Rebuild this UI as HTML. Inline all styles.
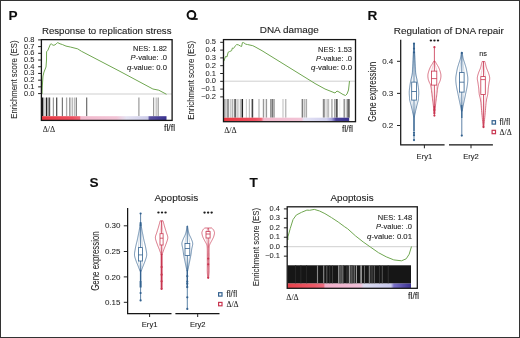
<!DOCTYPE html>
<html><head><meta charset="utf-8"><style>
html,body{margin:0;padding:0;background:#fff;}
svg{display:block;}
</style></head><body>
<svg width="520" height="338" viewBox="0 0 520 338">
<defs><linearGradient id="gP" x1="0" x2="1" y1="0" y2="0"><stop offset="0" stop-color="#e8363f"/><stop offset="0.25" stop-color="#ec5060"/><stop offset="0.305" stop-color="#ee6474"/><stop offset="0.315" stop-color="#f2b8cc"/><stop offset="0.6" stop-color="#f2c4d6"/><stop offset="0.68" stop-color="#e4e2f2"/><stop offset="0.85" stop-color="#cccbe9"/><stop offset="0.865" stop-color="#5a52a0"/><stop offset="1" stop-color="#3a3290"/></linearGradient><linearGradient id="gQ" x1="0" x2="1" y1="0" y2="0"><stop offset="0" stop-color="#e8363f"/><stop offset="0.25" stop-color="#ec5060"/><stop offset="0.3" stop-color="#ee6474"/><stop offset="0.32" stop-color="#f2b8cc"/><stop offset="0.62" stop-color="#f2c4d6"/><stop offset="0.64" stop-color="#e4e2f4"/><stop offset="0.82" stop-color="#d0d0ee"/><stop offset="0.86" stop-color="#a8a4dc"/><stop offset="0.895" stop-color="#4a4098"/><stop offset="1" stop-color="#3a3290"/></linearGradient><linearGradient id="gT" x1="0" x2="1" y1="0" y2="0"><stop offset="0" stop-color="#e8404a"/><stop offset="0.22" stop-color="#ec5a68"/><stop offset="0.294" stop-color="#ee6c80"/><stop offset="0.306" stop-color="#f2aec8"/><stop offset="0.594" stop-color="#f0c0d8"/><stop offset="0.62" stop-color="#dcdcf0"/><stop offset="0.838" stop-color="#c8c8ec"/><stop offset="0.862" stop-color="#7a70c8"/><stop offset="1" stop-color="#3a3090"/></linearGradient></defs>
<filter id="soft" x="0" y="0" width="100%" height="100%"><feGaussianBlur stdDeviation="0.3"/></filter>
<rect x="0" y="0" width="520" height="338" fill="#fff"/>
<g filter="url(#soft)">
<line x1="41.9" y1="94" x2="172.1" y2="94" stroke="#cfcfcf" stroke-width="1" />
<line x1="42.4" y1="97.5" x2="42.4" y2="116.2" stroke="#151515" stroke-width="2.0" />
<line x1="45" y1="97.5" x2="45" y2="116.2" stroke="#bbb" stroke-width="1.2" />
<line x1="46.5" y1="97.5" x2="46.5" y2="116.2" stroke="#222" stroke-width="1.1" />
<line x1="47.9" y1="97.5" x2="47.9" y2="116.2" stroke="#888" stroke-width="1" />
<line x1="49.4" y1="97.5" x2="49.4" y2="116.2" stroke="#555" stroke-width="1.6" />
<line x1="53.4" y1="97.5" x2="53.4" y2="116.2" stroke="#999" stroke-width="1.2" />
<line x1="56.7" y1="97.5" x2="56.7" y2="116.2" stroke="#444" stroke-width="1.2" />
<line x1="62.4" y1="97.5" x2="62.4" y2="116.2" stroke="#777" stroke-width="1.2" />
<line x1="66.6" y1="97.5" x2="66.6" y2="116.2" stroke="#aaa" stroke-width="1.3" />
<line x1="69.8" y1="97.5" x2="69.8" y2="116.2" stroke="#999" stroke-width="1.5" />
<line x1="72.3" y1="97.5" x2="72.3" y2="116.2" stroke="#bbb" stroke-width="1.5" />
<line x1="74.4" y1="97.5" x2="74.4" y2="116.2" stroke="#bbb" stroke-width="1.1" />
<line x1="76.3" y1="97.5" x2="76.3" y2="116.2" stroke="#777" stroke-width="1.2" />
<line x1="86.65" y1="97.5" x2="86.65" y2="116.2" stroke="#777" stroke-width="1.3" />
<line x1="138.9" y1="97.5" x2="138.9" y2="116.2" stroke="#999" stroke-width="1.2" />
<line x1="153.6" y1="97.5" x2="153.6" y2="116.2" stroke="#999" stroke-width="1.2" />
<line x1="156.2" y1="97.5" x2="156.2" y2="116.2" stroke="#bbb" stroke-width="1.2" />
<line x1="158.2" y1="97.5" x2="158.2" y2="116.2" stroke="#999" stroke-width="1.2" />
<rect x="41.4" y="116.2" width="125.1" height="4.0" fill="url(#gP)"/>
<polyline points="42.00,94.00 42.30,86.00 43.00,76.00 44.00,72.00 46.00,67.00 46.50,60.00 46.60,51.50 47.70,50.70 50.40,44.20 51.20,43.80 53.10,45.30 55.00,44.90 56.20,43.80 57.70,42.60 60.00,43.80 62.30,44.50 66.00,46.10 70.70,47.10 77.80,48.90 81.30,51.20 120.00,71.40 152.90,89.00 158.80,90.20 166.50,94.30" fill="none" stroke="#6fa650" stroke-width="1" stroke-linejoin="round" />
<rect x="41.4" y="39.65" width="130.7" height="80.75" fill="none" stroke="#151515" stroke-width="1.3"/>
<line x1="38.1" y1="39.9" x2="41.4" y2="39.9" stroke="#222" stroke-width="1" />
<text x="34.5" y="41.9" font-family="Liberation Sans, sans-serif" font-size="7.5" text-anchor="end" font-weight="normal" font-style="normal" fill="#1e1e1e" stroke="#1e1e1e" stroke-width="0.05" >0.8</text>
<line x1="38.1" y1="46.61" x2="41.4" y2="46.61" stroke="#222" stroke-width="1" />
<text x="34.5" y="48.61" font-family="Liberation Sans, sans-serif" font-size="7.5" text-anchor="end" font-weight="normal" font-style="normal" fill="#1e1e1e" stroke="#1e1e1e" stroke-width="0.05" >0.7</text>
<line x1="38.1" y1="53.32" x2="41.4" y2="53.32" stroke="#222" stroke-width="1" />
<text x="34.5" y="55.32" font-family="Liberation Sans, sans-serif" font-size="7.5" text-anchor="end" font-weight="normal" font-style="normal" fill="#1e1e1e" stroke="#1e1e1e" stroke-width="0.05" >0.6</text>
<line x1="38.1" y1="60.03" x2="41.4" y2="60.03" stroke="#222" stroke-width="1" />
<text x="34.5" y="62.03" font-family="Liberation Sans, sans-serif" font-size="7.5" text-anchor="end" font-weight="normal" font-style="normal" fill="#1e1e1e" stroke="#1e1e1e" stroke-width="0.05" >0.5</text>
<line x1="38.1" y1="66.74" x2="41.4" y2="66.74" stroke="#222" stroke-width="1" />
<text x="34.5" y="68.74" font-family="Liberation Sans, sans-serif" font-size="7.5" text-anchor="end" font-weight="normal" font-style="normal" fill="#1e1e1e" stroke="#1e1e1e" stroke-width="0.05" >0.4</text>
<line x1="38.1" y1="73.44999999999999" x2="41.4" y2="73.44999999999999" stroke="#222" stroke-width="1" />
<text x="34.5" y="75.44999999999999" font-family="Liberation Sans, sans-serif" font-size="7.5" text-anchor="end" font-weight="normal" font-style="normal" fill="#1e1e1e" stroke="#1e1e1e" stroke-width="0.05" >0.3</text>
<line x1="38.1" y1="80.16" x2="41.4" y2="80.16" stroke="#222" stroke-width="1" />
<text x="34.5" y="82.16" font-family="Liberation Sans, sans-serif" font-size="7.5" text-anchor="end" font-weight="normal" font-style="normal" fill="#1e1e1e" stroke="#1e1e1e" stroke-width="0.05" >0.2</text>
<line x1="38.1" y1="86.87" x2="41.4" y2="86.87" stroke="#222" stroke-width="1" />
<text x="34.5" y="88.87" font-family="Liberation Sans, sans-serif" font-size="7.5" text-anchor="end" font-weight="normal" font-style="normal" fill="#1e1e1e" stroke="#1e1e1e" stroke-width="0.05" >0.1</text>
<line x1="38.1" y1="93.58" x2="41.4" y2="93.58" stroke="#222" stroke-width="1" />
<text x="34.5" y="95.58" font-family="Liberation Sans, sans-serif" font-size="7.5" text-anchor="end" font-weight="normal" font-style="normal" fill="#1e1e1e" stroke="#1e1e1e" stroke-width="0.05" >0.0</text>
<text x="106.7" y="33.6" font-family="Liberation Sans, sans-serif" font-size="9" text-anchor="middle" font-weight="normal" font-style="normal" fill="#1e1e1e" stroke="#1e1e1e" stroke-width="0.1" textLength="129.6" lengthAdjust="spacingAndGlyphs" >Response to replication stress</text>
<text x="167" y="50.6" font-family="Liberation Sans, sans-serif" font-size="7.6" text-anchor="end" font-weight="normal" font-style="normal" fill="#1e1e1e" stroke="#1e1e1e" stroke-width="0.1" textLength="34" lengthAdjust="spacingAndGlyphs" >NES: 1.82</text>
<text x="167" y="60.2" font-family="Liberation Sans, sans-serif" font-size="7.6" text-anchor="end" font-weight="normal" font-style="normal" fill="#1e1e1e" stroke="#1e1e1e" stroke-width="0.1" textLength="36.4" lengthAdjust="spacingAndGlyphs" ><tspan font-style="italic">P</tspan>-value: .0</text>
<text x="167" y="69.6" font-family="Liberation Sans, sans-serif" font-size="7.6" text-anchor="end" font-weight="normal" font-style="normal" fill="#1e1e1e" stroke="#1e1e1e" stroke-width="0.1" textLength="40.1" lengthAdjust="spacingAndGlyphs" ><tspan font-style="italic">q</tspan>-value: 0.0</text>
<text x="48.9" y="131.6" font-family="Liberation Serif, serif" font-size="8" text-anchor="middle" font-weight="normal" font-style="normal" fill="#1e1e1e" stroke="#1e1e1e" stroke-width="0.05" >Δ/Δ</text>
<text x="169.5" y="130.9" font-family="Liberation Sans, sans-serif" font-size="8.5" text-anchor="middle" font-weight="normal" font-style="normal" fill="#1e1e1e" stroke="#1e1e1e" stroke-width="0.1" textLength="11.2" lengthAdjust="spacingAndGlyphs" >ﬂ/ﬂ</text>
<text x="16.6" y="79.6" font-family="Liberation Sans, sans-serif" font-size="9.5" text-anchor="middle" fill="#1e1e1e" stroke="#1e1e1e" stroke-width="0.06" textLength="78.4" lengthAdjust="spacingAndGlyphs" transform="rotate(-90 16.6 79.6)">Enrichment score (ES)</text>
<line x1="224.0" y1="81.2" x2="355.5" y2="81.2" stroke="#cfcfcf" stroke-width="1" />
<line x1="224.8" y1="99" x2="224.8" y2="117.7" stroke="#aaa" stroke-width="1.8" />
<line x1="227.3" y1="99" x2="227.3" y2="117.7" stroke="#999" stroke-width="1.5" />
<line x1="228.5" y1="99" x2="228.5" y2="117.7" stroke="#999" stroke-width="1.2" />
<line x1="230.7" y1="99" x2="230.7" y2="117.7" stroke="#ccc" stroke-width="1.8" />
<line x1="232.7" y1="99" x2="232.7" y2="117.7" stroke="#aaa" stroke-width="1.2" />
<line x1="235.2" y1="99" x2="235.2" y2="117.7" stroke="#666" stroke-width="2" />
<line x1="237.7" y1="99" x2="237.7" y2="117.7" stroke="#ccc" stroke-width="2" />
<line x1="240.3" y1="99" x2="240.3" y2="117.7" stroke="#aaa" stroke-width="1" />
<line x1="242.3" y1="99" x2="242.3" y2="117.7" stroke="#222" stroke-width="1.5" />
<line x1="246.4" y1="99" x2="246.4" y2="117.7" stroke="#ccc" stroke-width="1.1" />
<line x1="249.4" y1="99" x2="249.4" y2="117.7" stroke="#bbb" stroke-width="1.2" />
<line x1="252.4" y1="99" x2="252.4" y2="117.7" stroke="#444" stroke-width="1.6" />
<line x1="259" y1="99" x2="259" y2="117.7" stroke="#ccc" stroke-width="1.8" />
<line x1="263.5" y1="99" x2="263.5" y2="117.7" stroke="#999" stroke-width="1.4" />
<line x1="266.4" y1="99" x2="266.4" y2="117.7" stroke="#999" stroke-width="1.4" />
<line x1="270.7" y1="99" x2="270.7" y2="117.7" stroke="#999" stroke-width="1.4" />
<line x1="272.5" y1="99" x2="272.5" y2="117.7" stroke="#777" stroke-width="2" />
<line x1="274.2" y1="99" x2="274.2" y2="117.7" stroke="#aaa" stroke-width="1.4" />
<line x1="283" y1="99" x2="283" y2="117.7" stroke="#ddd" stroke-width="2" />
<line x1="285.7" y1="99" x2="285.7" y2="117.7" stroke="#bbb" stroke-width="1.5" />
<line x1="302.3" y1="99" x2="302.3" y2="117.7" stroke="#777" stroke-width="1.3" />
<line x1="304.5" y1="99" x2="304.5" y2="117.7" stroke="#bbb" stroke-width="2" />
<line x1="306.5" y1="99" x2="306.5" y2="117.7" stroke="#aaa" stroke-width="1.2" />
<line x1="323.8" y1="99" x2="323.8" y2="117.7" stroke="#888" stroke-width="2" />
<line x1="326.2" y1="99" x2="326.2" y2="117.7" stroke="#ddd" stroke-width="2" />
<line x1="328.2" y1="99" x2="328.2" y2="117.7" stroke="#bbb" stroke-width="2" />
<line x1="331.9" y1="99" x2="331.9" y2="117.7" stroke="#bbb" stroke-width="1.8" />
<line x1="334.8" y1="99" x2="334.8" y2="117.7" stroke="#aaa" stroke-width="1.6" />
<line x1="336.8" y1="99" x2="336.8" y2="117.7" stroke="#555" stroke-width="1.8" />
<line x1="339.8" y1="99" x2="339.8" y2="117.7" stroke="#eee" stroke-width="1" />
<line x1="344.3" y1="99" x2="344.3" y2="117.7" stroke="#999" stroke-width="1.7" />
<line x1="346.5" y1="99" x2="346.5" y2="117.7" stroke="#ccc" stroke-width="1.2" />
<line x1="348.5" y1="99" x2="348.5" y2="117.7" stroke="#666" stroke-width="2.5" />
<rect x="223.5" y="117.7" width="125.69999999999999" height="3.5" fill="url(#gQ)"/>
<polyline points="223.90,61.10 225.50,56.50 227.00,56.80 228.20,52.20 229.70,51.50 231.60,50.70 232.40,48.00 233.50,48.40 235.50,45.70 236.60,44.50 238.50,44.90 240.50,46.10 241.60,46.50 242.40,42.60 243.50,42.60 245.80,44.20 247.40,44.50 252.80,45.70 255.00,46.80 262.00,50.70 311.00,81.00 315.00,83.50 325.00,89.00 335.00,93.00 337.00,91.00 339.00,92.00 343.00,94.50 345.50,95.50 347.00,94.00 348.50,90.00 349.50,81.00" fill="none" stroke="#6fa650" stroke-width="1" stroke-linejoin="round" />
<rect x="223.5" y="39.6" width="132.0" height="82.1" fill="none" stroke="#151515" stroke-width="1.3"/>
<line x1="220.2" y1="42.3" x2="223.5" y2="42.3" stroke="#222" stroke-width="1" />
<text x="216" y="44.3" font-family="Liberation Sans, sans-serif" font-size="7.5" text-anchor="end" font-weight="normal" font-style="normal" fill="#1e1e1e" stroke="#1e1e1e" stroke-width="0.05" >0.5</text>
<line x1="220.2" y1="50.099999999999994" x2="223.5" y2="50.099999999999994" stroke="#222" stroke-width="1" />
<text x="216" y="52.099999999999994" font-family="Liberation Sans, sans-serif" font-size="7.5" text-anchor="end" font-weight="normal" font-style="normal" fill="#1e1e1e" stroke="#1e1e1e" stroke-width="0.05" >0.4</text>
<line x1="220.2" y1="57.9" x2="223.5" y2="57.9" stroke="#222" stroke-width="1" />
<text x="216" y="59.9" font-family="Liberation Sans, sans-serif" font-size="7.5" text-anchor="end" font-weight="normal" font-style="normal" fill="#1e1e1e" stroke="#1e1e1e" stroke-width="0.05" >0.3</text>
<line x1="220.2" y1="65.69999999999999" x2="223.5" y2="65.69999999999999" stroke="#222" stroke-width="1" />
<text x="216" y="67.69999999999999" font-family="Liberation Sans, sans-serif" font-size="7.5" text-anchor="end" font-weight="normal" font-style="normal" fill="#1e1e1e" stroke="#1e1e1e" stroke-width="0.05" >0.2</text>
<line x1="220.2" y1="73.5" x2="223.5" y2="73.5" stroke="#222" stroke-width="1" />
<text x="216" y="75.5" font-family="Liberation Sans, sans-serif" font-size="7.5" text-anchor="end" font-weight="normal" font-style="normal" fill="#1e1e1e" stroke="#1e1e1e" stroke-width="0.05" >0.1</text>
<line x1="220.2" y1="81.3" x2="223.5" y2="81.3" stroke="#222" stroke-width="1" />
<text x="216" y="83.3" font-family="Liberation Sans, sans-serif" font-size="7.5" text-anchor="end" font-weight="normal" font-style="normal" fill="#1e1e1e" stroke="#1e1e1e" stroke-width="0.05" >0.0</text>
<line x1="220.2" y1="89.1" x2="223.5" y2="89.1" stroke="#222" stroke-width="1" />
<text x="216" y="91.1" font-family="Liberation Sans, sans-serif" font-size="7.5" text-anchor="end" font-weight="normal" font-style="normal" fill="#1e1e1e" stroke="#1e1e1e" stroke-width="0.05" >−0.1</text>
<line x1="220.2" y1="96.9" x2="223.5" y2="96.9" stroke="#222" stroke-width="1" />
<text x="216" y="98.9" font-family="Liberation Sans, sans-serif" font-size="7.5" text-anchor="end" font-weight="normal" font-style="normal" fill="#1e1e1e" stroke="#1e1e1e" stroke-width="0.05" >−0.2</text>
<text x="289.3" y="33.3" font-family="Liberation Sans, sans-serif" font-size="9" text-anchor="middle" font-weight="normal" font-style="normal" fill="#1e1e1e" stroke="#1e1e1e" stroke-width="0.1" textLength="59" lengthAdjust="spacingAndGlyphs" >DNA damage</text>
<text x="352" y="51.6" font-family="Liberation Sans, sans-serif" font-size="7.6" text-anchor="end" font-weight="normal" font-style="normal" fill="#1e1e1e" stroke="#1e1e1e" stroke-width="0.1" textLength="33.9" lengthAdjust="spacingAndGlyphs" >NES: 1.53</text>
<text x="352" y="61.2" font-family="Liberation Sans, sans-serif" font-size="7.6" text-anchor="end" font-weight="normal" font-style="normal" fill="#1e1e1e" stroke="#1e1e1e" stroke-width="0.1" textLength="36.1" lengthAdjust="spacingAndGlyphs" ><tspan font-style="italic">P</tspan>-value: .0</text>
<text x="352" y="70.4" font-family="Liberation Sans, sans-serif" font-size="7.6" text-anchor="end" font-weight="normal" font-style="normal" fill="#1e1e1e" stroke="#1e1e1e" stroke-width="0.1" textLength="40.9" lengthAdjust="spacingAndGlyphs" ><tspan font-style="italic">q</tspan>-value: 0.0</text>
<text x="230.4" y="132.7" font-family="Liberation Serif, serif" font-size="8" text-anchor="middle" font-weight="normal" font-style="normal" fill="#1e1e1e" stroke="#1e1e1e" stroke-width="0.05" >Δ/Δ</text>
<text x="347.5" y="131.8" font-family="Liberation Sans, sans-serif" font-size="8.5" text-anchor="middle" font-weight="normal" font-style="normal" fill="#1e1e1e" stroke="#1e1e1e" stroke-width="0.1" textLength="10.8" lengthAdjust="spacingAndGlyphs" >ﬂ/ﬂ</text>
<text x="194.4" y="80.3" font-family="Liberation Sans, sans-serif" font-size="9.5" text-anchor="middle" fill="#1e1e1e" stroke="#1e1e1e" stroke-width="0.06" textLength="78.8" lengthAdjust="spacingAndGlyphs" transform="rotate(-90 194.4 80.3)">Enrichment score (ES)</text>
<line x1="287.7" y1="246.7" x2="417.3" y2="246.7" stroke="#cfcfcf" stroke-width="1" />
<rect x="287.2" y="283.3" width="123.80000000000001" height="4.699999999999989" fill="url(#gT)"/>
<polyline points="287.90,240.00 287.90,236.90 290.30,228.30 293.00,219.60 296.30,215.00 301.60,212.30 306.90,210.10 309.60,210.30 314.30,209.40 319.60,211.00 324.90,213.60 331.50,217.60 338.20,222.00 344.80,226.90 347.70,228.80 355.40,235.80 363.10,241.90 370.80,247.30 378.50,252.70 386.20,256.80 393.80,259.90 401.50,260.80 406.20,258.80 409.20,254.20 411.50,246.50" fill="none" stroke="#6fa650" stroke-width="1" stroke-linejoin="round" />
<rect x="287.2" y="206.8" width="130.10000000000002" height="81.5" fill="none" stroke="#151515" stroke-width="1.3"/>
<line x1="283.9" y1="208.9" x2="287.2" y2="208.9" stroke="#222" stroke-width="1" />
<text x="280" y="210.9" font-family="Liberation Sans, sans-serif" font-size="7.5" text-anchor="end" font-weight="normal" font-style="normal" fill="#1e1e1e" stroke="#1e1e1e" stroke-width="0.05" >0.4</text>
<line x1="283.9" y1="218.35" x2="287.2" y2="218.35" stroke="#222" stroke-width="1" />
<text x="280" y="220.35" font-family="Liberation Sans, sans-serif" font-size="7.5" text-anchor="end" font-weight="normal" font-style="normal" fill="#1e1e1e" stroke="#1e1e1e" stroke-width="0.05" >0.3</text>
<line x1="283.9" y1="227.8" x2="287.2" y2="227.8" stroke="#222" stroke-width="1" />
<text x="280" y="229.8" font-family="Liberation Sans, sans-serif" font-size="7.5" text-anchor="end" font-weight="normal" font-style="normal" fill="#1e1e1e" stroke="#1e1e1e" stroke-width="0.05" >0.2</text>
<line x1="283.9" y1="237.25" x2="287.2" y2="237.25" stroke="#222" stroke-width="1" />
<text x="280" y="239.25" font-family="Liberation Sans, sans-serif" font-size="7.5" text-anchor="end" font-weight="normal" font-style="normal" fill="#1e1e1e" stroke="#1e1e1e" stroke-width="0.05" >0.1</text>
<line x1="283.9" y1="246.7" x2="287.2" y2="246.7" stroke="#222" stroke-width="1" />
<text x="280" y="248.7" font-family="Liberation Sans, sans-serif" font-size="7.5" text-anchor="end" font-weight="normal" font-style="normal" fill="#1e1e1e" stroke="#1e1e1e" stroke-width="0.05" >0.0</text>
<line x1="283.9" y1="256.15" x2="287.2" y2="256.15" stroke="#222" stroke-width="1" />
<text x="280" y="258.15" font-family="Liberation Sans, sans-serif" font-size="7.5" text-anchor="end" font-weight="normal" font-style="normal" fill="#1e1e1e" stroke="#1e1e1e" stroke-width="0.05" >−0.1</text>
<rect x="287.7" y="265.3" width="123.3" height="18" fill="#151515"/>
<line x1="295.6" y1="265.3" x2="295.6" y2="283.3" stroke="#2a2a2a" stroke-width="1" />
<line x1="300.9" y1="265.3" x2="300.9" y2="283.3" stroke="#2a2a2a" stroke-width="1" />
<line x1="306.7" y1="265.3" x2="306.7" y2="283.3" stroke="#2a2a2a" stroke-width="1" />
<line x1="317.5" y1="265.3" x2="317.5" y2="283.3" stroke="#888" stroke-width="1.2" />
<line x1="323.7" y1="265.3" x2="323.7" y2="283.3" stroke="#888" stroke-width="1.2" />
<line x1="326.8" y1="265.3" x2="326.8" y2="283.3" stroke="#555" stroke-width="1.2" />
<line x1="329.7" y1="265.3" x2="329.7" y2="283.3" stroke="#333" stroke-width="1" />
<line x1="332.4" y1="265.3" x2="332.4" y2="283.3" stroke="#444" stroke-width="1" />
<line x1="338.8" y1="265.3" x2="338.8" y2="283.3" stroke="#aaa" stroke-width="1.2" />
<line x1="340.4" y1="265.3" x2="340.4" y2="283.3" stroke="#555" stroke-width="2" />
<line x1="342.2" y1="265.3" x2="342.2" y2="283.3" stroke="#999" stroke-width="1" />
<line x1="343.3" y1="265.3" x2="343.3" y2="283.3" stroke="#444" stroke-width="1" />
<line x1="347" y1="265.3" x2="347" y2="283.3" stroke="#444" stroke-width="1" />
<line x1="349.4" y1="265.3" x2="349.4" y2="283.3" stroke="#999" stroke-width="1.2" />
<line x1="351.5" y1="265.3" x2="351.5" y2="283.3" stroke="#555" stroke-width="2.5" />
<line x1="354.2" y1="265.3" x2="354.2" y2="283.3" stroke="#888" stroke-width="1" />
<line x1="356.4" y1="265.3" x2="356.4" y2="283.3" stroke="#aaa" stroke-width="1" />
<line x1="361.1" y1="265.3" x2="361.1" y2="283.3" stroke="#aaa" stroke-width="1.5" />
<line x1="364.5" y1="265.3" x2="364.5" y2="283.3" stroke="#666" stroke-width="1" />
<line x1="369.5" y1="265.3" x2="369.5" y2="283.3" stroke="#777" stroke-width="1.5" />
<line x1="372" y1="265.3" x2="372" y2="283.3" stroke="#555" stroke-width="1" />
<line x1="374.3" y1="265.3" x2="374.3" y2="283.3" stroke="#666" stroke-width="1" />
<line x1="379.6" y1="265.3" x2="379.6" y2="283.3" stroke="#333" stroke-width="1" />
<line x1="382.3" y1="265.3" x2="382.3" y2="283.3" stroke="#555" stroke-width="1" />
<line x1="388.2" y1="265.3" x2="388.2" y2="283.3" stroke="#333" stroke-width="1" />
<text x="352" y="200.6" font-family="Liberation Sans, sans-serif" font-size="9" text-anchor="middle" font-weight="normal" font-style="normal" fill="#1e1e1e" stroke="#1e1e1e" stroke-width="0.1" textLength="43.2" lengthAdjust="spacingAndGlyphs" >Apoptosis</text>
<text x="412.1" y="220.1" font-family="Liberation Sans, sans-serif" font-size="7.6" text-anchor="end" font-weight="normal" font-style="normal" fill="#1e1e1e" stroke="#1e1e1e" stroke-width="0.1" textLength="34.3" lengthAdjust="spacingAndGlyphs" >NES: 1.48</text>
<text x="412" y="229.3" font-family="Liberation Sans, sans-serif" font-size="7.6" text-anchor="end" font-weight="normal" font-style="normal" fill="#1e1e1e" stroke="#1e1e1e" stroke-width="0.1" textLength="36" lengthAdjust="spacingAndGlyphs" ><tspan font-style="italic">P</tspan>-value: .0</text>
<text x="412" y="238.7" font-family="Liberation Sans, sans-serif" font-size="7.6" text-anchor="end" font-weight="normal" font-style="normal" fill="#1e1e1e" stroke="#1e1e1e" stroke-width="0.1" textLength="44.9" lengthAdjust="spacingAndGlyphs" ><tspan font-style="italic">q</tspan>-value: 0.01</text>
<text x="292.5" y="299.6" font-family="Liberation Serif, serif" font-size="8" text-anchor="middle" font-weight="normal" font-style="normal" fill="#1e1e1e" stroke="#1e1e1e" stroke-width="0.05" >Δ/Δ</text>
<text x="413.6" y="298.5" font-family="Liberation Sans, sans-serif" font-size="8.5" text-anchor="middle" font-weight="normal" font-style="normal" fill="#1e1e1e" stroke="#1e1e1e" stroke-width="0.1" textLength="11" lengthAdjust="spacingAndGlyphs" >ﬂ/ﬂ</text>
<text x="258.6" y="247.1" font-family="Liberation Sans, sans-serif" font-size="9.5" text-anchor="middle" fill="#1e1e1e" stroke="#1e1e1e" stroke-width="0.06" textLength="78.4" lengthAdjust="spacingAndGlyphs" transform="rotate(-90 258.6 247.1)">Enrichment score (ES)</text>
<line x1="400.7" y1="39.7" x2="400.7" y2="144.8" stroke="#151515" stroke-width="1.25" />
<line x1="400.1" y1="144.8" x2="444.6" y2="144.8" stroke="#151515" stroke-width="1.25" />
<line x1="449" y1="144.8" x2="492.9" y2="144.8" stroke="#151515" stroke-width="1.25" />
<line x1="397" y1="61.3" x2="400.7" y2="61.3" stroke="#222" stroke-width="1" />
<text x="393.3" y="63.9" font-family="Liberation Sans, sans-serif" font-size="8" text-anchor="end" font-weight="normal" font-style="normal" fill="#1e1e1e" stroke="#1e1e1e" stroke-width="0.05" >0.4</text>
<line x1="397" y1="93.4" x2="400.7" y2="93.4" stroke="#222" stroke-width="1" />
<text x="393.3" y="96.0" font-family="Liberation Sans, sans-serif" font-size="8" text-anchor="end" font-weight="normal" font-style="normal" fill="#1e1e1e" stroke="#1e1e1e" stroke-width="0.05" >0.3</text>
<line x1="397" y1="125.5" x2="400.7" y2="125.5" stroke="#222" stroke-width="1" />
<text x="393.3" y="128.1" font-family="Liberation Sans, sans-serif" font-size="8" text-anchor="end" font-weight="normal" font-style="normal" fill="#1e1e1e" stroke="#1e1e1e" stroke-width="0.05" >0.2</text>
<line x1="424.4" y1="144.8" x2="424.4" y2="148.3" stroke="#222" stroke-width="1" />
<text x="424.4" y="158.6" font-family="Liberation Sans, sans-serif" font-size="7.6" text-anchor="middle" font-weight="normal" font-style="normal" fill="#1e1e1e" stroke="#1e1e1e" stroke-width="0.1" >Ery1</text>
<line x1="471" y1="144.8" x2="471" y2="148.3" stroke="#222" stroke-width="1" />
<text x="471" y="158.6" font-family="Liberation Sans, sans-serif" font-size="7.6" text-anchor="middle" font-weight="normal" font-style="normal" fill="#1e1e1e" stroke="#1e1e1e" stroke-width="0.1" >Ery2</text>
<text x="448.75" y="33.5" font-family="Liberation Sans, sans-serif" font-size="9" text-anchor="middle" font-weight="normal" font-style="normal" fill="#1e1e1e" stroke="#1e1e1e" stroke-width="0.1" textLength="110" lengthAdjust="spacingAndGlyphs" >Regulation of DNA repair</text>
<ellipse cx="430.9" cy="40.5" rx="1.2" ry="1.1" fill="#1a1a1a"/>
<ellipse cx="434.45" cy="40.5" rx="1.2" ry="1.1" fill="#1a1a1a"/>
<ellipse cx="438.0" cy="40.5" rx="1.2" ry="1.1" fill="#1a1a1a"/>
<text x="483.1" y="56.0" font-family="Liberation Sans, sans-serif" font-size="7.4" text-anchor="middle" font-weight="normal" font-style="normal" fill="#1e1e1e" stroke="#1e1e1e" stroke-width="0.1" >ns</text>
<text x="375.9" y="91.8" font-family="Liberation Sans, sans-serif" font-size="10" text-anchor="middle" fill="#1e1e1e" stroke="#1e1e1e" stroke-width="0.06" textLength="59.8" lengthAdjust="spacingAndGlyphs" transform="rotate(-90 375.9 91.8)">Gene expression</text>
<line x1="414.0" y1="43.5" x2="414.0" y2="140.3" stroke="#33628f" stroke-width="0.8" />
<line x1="414.0" y1="117" x2="414.0" y2="131" stroke="#33628f" stroke-width="1.2" />
<path d="M414.30,44.00 L414.33,44.88 L414.37,46.07 L414.43,47.50 L414.48,49.06 L414.54,50.68 L414.60,52.27 L414.65,53.74 L414.70,55.00 L414.74,56.07 L414.78,57.05 L414.82,57.96 L414.86,58.81 L414.89,59.62 L414.93,60.41 L414.96,61.20 L415.00,62.00 L415.04,62.80 L415.07,63.57 L415.11,64.32 L415.14,65.06 L415.18,65.79 L415.21,66.52 L415.26,67.26 L415.30,68.00 L415.34,68.75 L415.38,69.50 L415.42,70.25 L415.46,71.00 L415.51,71.75 L415.57,72.50 L415.65,73.25 L415.75,74.00 L415.88,74.75 L416.03,75.50 L416.20,76.25 L416.39,77.00 L416.58,77.75 L416.76,78.50 L416.94,79.25 L417.10,80.00 L417.25,80.75 L417.39,81.50 L417.54,82.25 L417.67,83.00 L417.80,83.75 L417.93,84.50 L418.04,85.25 L418.15,86.00 L418.25,86.75 L418.35,87.51 L418.45,88.27 L418.53,89.03 L418.61,89.79 L418.67,90.54 L418.72,91.27 L418.75,92.00 L418.76,92.73 L418.75,93.48 L418.72,94.23 L418.68,94.97 L418.63,95.68 L418.58,96.35 L418.53,96.96 L418.50,97.50 L418.49,97.92 L418.49,98.21 L418.50,98.42 L418.51,98.59 L418.51,98.79 L418.48,99.06 L418.41,99.44 L418.30,100.00 L418.13,100.73 L417.92,101.59 L417.66,102.55 L417.38,103.59 L417.09,104.69 L416.80,105.80 L416.51,106.91 L416.25,108.00 L415.99,109.14 L415.71,110.39 L415.43,111.70 L415.15,113.00 L414.88,114.24 L414.65,115.36 L414.45,116.30 L414.30,117.00 L413.70,117.00 L413.55,116.30 L413.35,115.36 L413.12,114.24 L412.85,113.00 L412.57,111.70 L412.29,110.39 L412.01,109.14 L411.75,108.00 L411.49,106.91 L411.20,105.80 L410.91,104.69 L410.62,103.59 L410.34,102.55 L410.08,101.59 L409.87,100.73 L409.70,100.00 L409.59,99.44 L409.52,99.06 L409.49,98.79 L409.49,98.59 L409.50,98.42 L409.51,98.21 L409.51,97.92 L409.50,97.50 L409.47,96.96 L409.42,96.35 L409.37,95.68 L409.32,94.97 L409.28,94.23 L409.25,93.48 L409.24,92.73 L409.25,92.00 L409.28,91.27 L409.33,90.54 L409.39,89.79 L409.47,89.03 L409.55,88.27 L409.65,87.51 L409.75,86.75 L409.85,86.00 L409.96,85.25 L410.07,84.50 L410.20,83.75 L410.33,83.00 L410.46,82.25 L410.61,81.50 L410.75,80.75 L410.90,80.00 L411.06,79.25 L411.24,78.50 L411.42,77.75 L411.61,77.00 L411.80,76.25 L411.97,75.50 L412.12,74.75 L412.25,74.00 L412.35,73.25 L412.43,72.50 L412.49,71.75 L412.54,71.00 L412.58,70.25 L412.62,69.50 L412.66,68.75 L412.70,68.00 L412.74,67.26 L412.79,66.52 L412.82,65.79 L412.86,65.06 L412.89,64.32 L412.93,63.57 L412.96,62.80 L413.00,62.00 L413.04,61.20 L413.07,60.41 L413.11,59.62 L413.14,58.81 L413.18,57.96 L413.22,57.05 L413.26,56.07 L413.30,55.00 L413.35,53.74 L413.40,52.27 L413.46,50.68 L413.52,49.06 L413.57,47.50 L413.63,46.07 L413.67,44.88 L413.70,44.00 Z" fill="#33628f" fill-opacity="0.0" stroke="#33628f" stroke-width="0.7" stroke-linejoin="round"/>
<polyline points="411.7,82.1 414.0,44 416.4,82.1" fill="none" stroke="#33628f" stroke-width="0.4" stroke-opacity="0.6"/>
<polyline points="411.7,100.1 414.0,117 416.4,100.1" fill="none" stroke="#33628f" stroke-width="0.4" stroke-opacity="0.6"/>
<rect x="411.7" y="82.1" width="4.699999999999989" height="18.0" fill="white" stroke="#33628f" stroke-width="0.8"/>
<line x1="411.7" y1="91.5" x2="416.4" y2="91.5" stroke="#33628f" stroke-width="0.8" />
<circle cx="414.0" cy="43.5" r="1.1" fill="#33628f"/>
<circle cx="414.0" cy="48.5" r="1.1" fill="#33628f"/>
<circle cx="414.0" cy="52.5" r="1.1" fill="#33628f"/>
<circle cx="414.0" cy="132.8" r="1.1" fill="#33628f"/>
<circle cx="414.0" cy="135.2" r="1.1" fill="#33628f"/>
<circle cx="414.0" cy="140.1" r="1.1" fill="#33628f"/>
<line x1="434.4" y1="47" x2="434.4" y2="115.6" stroke="#c8354f" stroke-width="0.8" />
<line x1="434.4" y1="106" x2="434.4" y2="114" stroke="#c8354f" stroke-width="1.4" />
<path d="M434.90,61.00 L435.03,61.23 L435.20,61.54 L435.41,61.91 L435.64,62.31 L435.88,62.74 L436.13,63.18 L436.37,63.60 L436.60,64.00 L436.82,64.37 L437.05,64.73 L437.28,65.08 L437.51,65.44 L437.74,65.80 L437.96,66.18 L438.18,66.58 L438.40,67.00 L438.61,67.45 L438.83,67.93 L439.05,68.43 L439.26,68.94 L439.46,69.46 L439.65,69.98 L439.83,70.49 L440.00,71.00 L440.15,71.50 L440.30,72.00 L440.44,72.50 L440.57,73.00 L440.68,73.50 L440.78,74.00 L440.85,74.50 L440.90,75.00 L440.92,75.51 L440.93,76.02 L440.91,76.54 L440.87,77.06 L440.82,77.57 L440.75,78.07 L440.68,78.55 L440.60,79.00 L440.51,79.42 L440.41,79.80 L440.30,80.15 L440.18,80.50 L440.05,80.85 L439.91,81.20 L439.76,81.58 L439.60,82.00 L439.43,82.41 L439.24,82.79 L439.03,83.16 L438.82,83.56 L438.61,84.02 L438.40,84.55 L438.19,85.21 L438.00,86.00 L437.82,86.96 L437.64,88.08 L437.47,89.31 L437.30,90.62 L437.14,91.99 L436.97,93.36 L436.81,94.71 L436.65,96.00 L436.48,97.28 L436.32,98.59 L436.15,99.93 L435.98,101.25 L435.82,102.54 L435.66,103.78 L435.52,104.94 L435.40,106.00 L435.29,106.98 L435.19,107.92 L435.10,108.81 L435.02,109.62 L434.95,110.37 L434.89,111.02 L434.84,111.56 L434.80,112.00 L434.00,112.00 L433.96,111.56 L433.91,111.02 L433.85,110.37 L433.78,109.62 L433.70,108.81 L433.61,107.92 L433.51,106.98 L433.40,106.00 L433.28,104.94 L433.14,103.78 L432.98,102.54 L432.82,101.25 L432.65,99.93 L432.48,98.59 L432.32,97.28 L432.15,96.00 L431.99,94.71 L431.83,93.36 L431.66,91.99 L431.50,90.62 L431.33,89.31 L431.16,88.08 L430.98,86.96 L430.80,86.00 L430.61,85.21 L430.40,84.55 L430.19,84.02 L429.98,83.56 L429.77,83.16 L429.56,82.79 L429.37,82.41 L429.20,82.00 L429.04,81.58 L428.89,81.20 L428.75,80.85 L428.62,80.50 L428.50,80.15 L428.39,79.80 L428.29,79.42 L428.20,79.00 L428.12,78.55 L428.05,78.07 L427.98,77.57 L427.93,77.06 L427.89,76.54 L427.87,76.02 L427.88,75.51 L427.90,75.00 L427.95,74.50 L428.02,74.00 L428.12,73.50 L428.23,73.00 L428.36,72.50 L428.50,72.00 L428.65,71.50 L428.80,71.00 L428.97,70.49 L429.15,69.98 L429.34,69.46 L429.54,68.94 L429.75,68.43 L429.97,67.93 L430.19,67.45 L430.40,67.00 L430.62,66.58 L430.84,66.18 L431.06,65.80 L431.29,65.44 L431.52,65.08 L431.75,64.73 L431.98,64.37 L432.20,64.00 L432.43,63.60 L432.67,63.18 L432.92,62.74 L433.16,62.31 L433.39,61.91 L433.60,61.54 L433.77,61.23 L433.90,61.00 Z" fill="#c8354f" fill-opacity="0.0" stroke="#c8354f" stroke-width="0.7" stroke-linejoin="round"/>
<polyline points="431.5,71.1 434.4,61 436.8,71.1" fill="none" stroke="#c8354f" stroke-width="0.4" stroke-opacity="0.6"/>
<polyline points="431.5,85.1 434.4,112 436.8,85.1" fill="none" stroke="#c8354f" stroke-width="0.4" stroke-opacity="0.6"/>
<rect x="431.5" y="71.1" width="5.300000000000011" height="14.0" fill="white" stroke="#c8354f" stroke-width="0.8"/>
<line x1="431.5" y1="78.6" x2="436.8" y2="78.6" stroke="#c8354f" stroke-width="0.8" />
<circle cx="434.4" cy="47.2" r="1.1" fill="#c8354f"/>
<circle cx="434.4" cy="110" r="1.1" fill="#c8354f"/>
<circle cx="434.4" cy="113" r="1.1" fill="#c8354f"/>
<circle cx="434.4" cy="115.6" r="1.1" fill="#c8354f"/>
<line x1="461.8" y1="52" x2="461.8" y2="135.6" stroke="#33628f" stroke-width="0.8" />
<line x1="461.8" y1="105" x2="461.8" y2="118" stroke="#33628f" stroke-width="1.2" />
<path d="M462.10,52.00 L462.17,52.47 L462.26,53.10 L462.36,53.85 L462.48,54.69 L462.61,55.56 L462.75,56.43 L462.90,57.26 L463.05,58.00 L463.22,58.67 L463.40,59.32 L463.59,59.95 L463.79,60.56 L464.00,61.17 L464.20,61.77 L464.40,62.38 L464.60,63.00 L464.79,63.62 L464.99,64.25 L465.19,64.88 L465.38,65.50 L465.58,66.12 L465.76,66.75 L465.94,67.38 L466.10,68.00 L466.25,68.62 L466.39,69.25 L466.52,69.88 L466.65,70.50 L466.77,71.12 L466.88,71.75 L466.99,72.38 L467.10,73.00 L467.21,73.62 L467.32,74.25 L467.42,74.88 L467.53,75.50 L467.62,76.12 L467.70,76.75 L467.76,77.38 L467.80,78.00 L467.82,78.62 L467.83,79.25 L467.82,79.88 L467.79,80.50 L467.75,81.12 L467.71,81.75 L467.66,82.38 L467.60,83.00 L467.53,83.62 L467.46,84.25 L467.37,84.88 L467.28,85.50 L467.18,86.12 L467.07,86.75 L466.96,87.38 L466.85,88.00 L466.73,88.62 L466.61,89.25 L466.48,89.88 L466.34,90.50 L466.20,91.12 L466.07,91.75 L465.93,92.38 L465.80,93.00 L465.68,93.61 L465.56,94.20 L465.44,94.79 L465.33,95.38 L465.21,95.98 L465.08,96.61 L464.95,97.28 L464.80,98.00 L464.63,98.78 L464.45,99.63 L464.26,100.51 L464.06,101.42 L463.86,102.35 L463.67,103.26 L463.48,104.15 L463.30,105.00 L463.13,105.86 L462.95,106.75 L462.78,107.66 L462.61,108.54 L462.45,109.36 L462.31,110.10 L462.19,110.73 L462.10,111.20 L461.50,111.20 L461.41,110.73 L461.29,110.10 L461.15,109.36 L460.99,108.54 L460.82,107.66 L460.65,106.75 L460.47,105.86 L460.30,105.00 L460.12,104.15 L459.93,103.26 L459.74,102.35 L459.54,101.42 L459.34,100.51 L459.15,99.63 L458.97,98.78 L458.80,98.00 L458.65,97.28 L458.52,96.61 L458.39,95.98 L458.27,95.38 L458.16,94.79 L458.04,94.20 L457.92,93.61 L457.80,93.00 L457.67,92.38 L457.53,91.75 L457.40,91.12 L457.26,90.50 L457.12,89.88 L456.99,89.25 L456.87,88.62 L456.75,88.00 L456.64,87.38 L456.53,86.75 L456.42,86.12 L456.32,85.50 L456.23,84.88 L456.14,84.25 L456.07,83.62 L456.00,83.00 L455.94,82.38 L455.89,81.75 L455.85,81.12 L455.81,80.50 L455.78,79.88 L455.77,79.25 L455.78,78.62 L455.80,78.00 L455.84,77.38 L455.90,76.75 L455.98,76.12 L456.07,75.50 L456.18,74.88 L456.28,74.25 L456.39,73.62 L456.50,73.00 L456.61,72.38 L456.72,71.75 L456.83,71.12 L456.95,70.50 L457.08,69.88 L457.21,69.25 L457.35,68.62 L457.50,68.00 L457.66,67.38 L457.84,66.75 L458.02,66.12 L458.22,65.50 L458.41,64.88 L458.61,64.25 L458.81,63.62 L459.00,63.00 L459.20,62.38 L459.40,61.77 L459.60,61.17 L459.81,60.56 L460.01,59.95 L460.20,59.32 L460.38,58.67 L460.55,58.00 L460.70,57.26 L460.85,56.43 L460.99,55.56 L461.12,54.69 L461.24,53.85 L461.34,53.10 L461.43,52.47 L461.50,52.00 Z" fill="#33628f" fill-opacity="0.0" stroke="#33628f" stroke-width="0.7" stroke-linejoin="round"/>
<polyline points="459.5,72.6 461.8,52 464.1,72.6" fill="none" stroke="#33628f" stroke-width="0.4" stroke-opacity="0.6"/>
<polyline points="459.5,92.1 461.8,111.2 464.1,92.1" fill="none" stroke="#33628f" stroke-width="0.4" stroke-opacity="0.6"/>
<rect x="459.5" y="72.6" width="4.600000000000023" height="19.5" fill="white" stroke="#33628f" stroke-width="0.8"/>
<line x1="459.5" y1="82.2" x2="464.1" y2="82.2" stroke="#33628f" stroke-width="0.8" />
<circle cx="461.8" cy="53" r="1.1" fill="#33628f"/>
<circle cx="461.8" cy="135.6" r="1.1" fill="#33628f"/>
<line x1="483.5" y1="61.5" x2="483.5" y2="127.1" stroke="#c8354f" stroke-width="0.8" />
<path d="M484.85,61.50 L484.90,61.68 L484.96,61.91 L485.03,62.19 L485.11,62.50 L485.20,62.84 L485.30,63.21 L485.40,63.60 L485.50,64.00 L485.60,64.42 L485.70,64.87 L485.81,65.35 L485.92,65.84 L486.04,66.36 L486.17,66.89 L486.32,67.44 L486.50,68.00 L486.71,68.58 L486.95,69.18 L487.21,69.80 L487.49,70.44 L487.76,71.08 L488.03,71.73 L488.28,72.37 L488.50,73.00 L488.70,73.62 L488.90,74.25 L489.09,74.88 L489.27,75.50 L489.42,76.12 L489.55,76.75 L489.65,77.38 L489.70,78.00 L489.70,78.62 L489.66,79.25 L489.58,79.88 L489.47,80.50 L489.35,81.12 L489.22,81.75 L489.10,82.38 L489.00,83.00 L488.91,83.61 L488.82,84.21 L488.73,84.81 L488.64,85.41 L488.56,86.02 L488.47,86.64 L488.38,87.30 L488.30,88.00 L488.23,88.74 L488.16,89.52 L488.10,90.33 L488.04,91.16 L487.98,92.00 L487.90,92.84 L487.81,93.68 L487.70,94.50 L487.56,95.27 L487.40,95.97 L487.22,96.65 L487.04,97.34 L486.85,98.09 L486.65,98.92 L486.47,99.88 L486.30,101.00 L486.14,102.31 L485.99,103.79 L485.84,105.39 L485.69,107.09 L485.55,108.83 L485.40,110.59 L485.25,112.33 L485.10,114.00 L484.93,115.72 L484.75,117.58 L484.56,119.48 L484.38,121.36 L484.20,123.14 L484.04,124.74 L483.90,126.09 L483.80,127.10 L483.20,127.10 L483.10,126.09 L482.96,124.74 L482.80,123.14 L482.62,121.36 L482.44,119.48 L482.25,117.58 L482.07,115.72 L481.90,114.00 L481.75,112.33 L481.60,110.59 L481.45,108.83 L481.31,107.09 L481.16,105.39 L481.01,103.79 L480.86,102.31 L480.70,101.00 L480.53,99.88 L480.35,98.92 L480.15,98.09 L479.96,97.34 L479.78,96.65 L479.60,95.97 L479.44,95.27 L479.30,94.50 L479.19,93.68 L479.10,92.84 L479.02,92.00 L478.96,91.16 L478.90,90.33 L478.84,89.52 L478.77,88.74 L478.70,88.00 L478.62,87.30 L478.53,86.64 L478.44,86.02 L478.36,85.41 L478.27,84.81 L478.18,84.21 L478.09,83.61 L478.00,83.00 L477.90,82.38 L477.78,81.75 L477.65,81.12 L477.53,80.50 L477.42,79.88 L477.34,79.25 L477.30,78.62 L477.30,78.00 L477.35,77.38 L477.45,76.75 L477.58,76.12 L477.73,75.50 L477.91,74.88 L478.10,74.25 L478.30,73.62 L478.50,73.00 L478.72,72.37 L478.97,71.73 L479.24,71.08 L479.51,70.44 L479.79,69.80 L480.05,69.18 L480.29,68.58 L480.50,68.00 L480.68,67.44 L480.83,66.89 L480.96,66.36 L481.08,65.84 L481.19,65.35 L481.30,64.87 L481.40,64.42 L481.50,64.00 L481.60,63.60 L481.70,63.21 L481.80,62.84 L481.89,62.50 L481.97,62.19 L482.04,61.91 L482.10,61.68 L482.15,61.50 Z" fill="#c8354f" fill-opacity="0.0" stroke="#c8354f" stroke-width="0.7" stroke-linejoin="round"/>
<polyline points="480.8,76.6 483.5,61.5 485.3,76.6" fill="none" stroke="#c8354f" stroke-width="0.4" stroke-opacity="0.6"/>
<polyline points="480.8,94.5 483.5,127.1 485.3,94.5" fill="none" stroke="#c8354f" stroke-width="0.4" stroke-opacity="0.6"/>
<rect x="480.8" y="76.6" width="4.5" height="17.900000000000006" fill="white" stroke="#c8354f" stroke-width="0.8"/>
<line x1="480.8" y1="79.6" x2="485.3" y2="79.6" stroke="#c8354f" stroke-width="0.8" />
<circle cx="483.5" cy="127.1" r="1.1" fill="#c8354f"/>
<rect x="492.1" y="120.69999999999999" width="3.4" height="3.4" fill="white" stroke="#33628f" stroke-width="1.2"/>
<rect x="492.1" y="130.29999999999998" width="3.4" height="3.4" fill="white" stroke="#c8354f" stroke-width="1.2"/>
<text x="499.5" y="124.69999999999999" font-family="Liberation Sans, sans-serif" font-size="8.5" text-anchor="start" font-weight="normal" font-style="normal" fill="#1e1e1e" stroke="#1e1e1e" stroke-width="0.03" textLength="10.7" lengthAdjust="spacingAndGlyphs" >ﬂ/ﬂ</text>
<text x="499.5" y="134.5" font-family="Liberation Serif, serif" font-size="7.3" text-anchor="start" font-weight="normal" font-style="normal" fill="#1e1e1e" stroke="#1e1e1e" stroke-width="0.05" textLength="12.2" lengthAdjust="spacingAndGlyphs" >Δ/Δ</text>
<line x1="127.6" y1="208" x2="127.6" y2="313.7" stroke="#151515" stroke-width="1.25" />
<line x1="127" y1="313.7" x2="171.5" y2="313.7" stroke="#151515" stroke-width="1.25" />
<line x1="175.4" y1="313.7" x2="219.5" y2="313.7" stroke="#151515" stroke-width="1.25" />
<line x1="123.8" y1="225.8" x2="127.5" y2="225.8" stroke="#222" stroke-width="1" />
<text x="120.5" y="228.4" font-family="Liberation Sans, sans-serif" font-size="8" text-anchor="end" font-weight="normal" font-style="normal" fill="#1e1e1e" stroke="#1e1e1e" stroke-width="0.05" >0.30</text>
<line x1="123.8" y1="251.5" x2="127.5" y2="251.5" stroke="#222" stroke-width="1" />
<text x="120.5" y="254.1" font-family="Liberation Sans, sans-serif" font-size="8" text-anchor="end" font-weight="normal" font-style="normal" fill="#1e1e1e" stroke="#1e1e1e" stroke-width="0.05" >0.25</text>
<line x1="123.8" y1="276.9" x2="127.5" y2="276.9" stroke="#222" stroke-width="1" />
<text x="120.5" y="279.5" font-family="Liberation Sans, sans-serif" font-size="8" text-anchor="end" font-weight="normal" font-style="normal" fill="#1e1e1e" stroke="#1e1e1e" stroke-width="0.05" >0.20</text>
<line x1="123.8" y1="302.3" x2="127.5" y2="302.3" stroke="#222" stroke-width="1" />
<text x="120.5" y="304.90000000000003" font-family="Liberation Sans, sans-serif" font-size="8" text-anchor="end" font-weight="normal" font-style="normal" fill="#1e1e1e" stroke="#1e1e1e" stroke-width="0.05" >0.15</text>
<line x1="149.6" y1="313.7" x2="149.6" y2="317" stroke="#222" stroke-width="1" />
<text x="149.6" y="327.1" font-family="Liberation Sans, sans-serif" font-size="7.6" text-anchor="middle" font-weight="normal" font-style="normal" fill="#1e1e1e" stroke="#1e1e1e" stroke-width="0.1" >Ery1</text>
<line x1="197.7" y1="313.7" x2="197.7" y2="317" stroke="#222" stroke-width="1" />
<text x="197.7" y="327.1" font-family="Liberation Sans, sans-serif" font-size="7.6" text-anchor="middle" font-weight="normal" font-style="normal" fill="#1e1e1e" stroke="#1e1e1e" stroke-width="0.1" >Ery2</text>
<text x="176.3" y="200.8" font-family="Liberation Sans, sans-serif" font-size="9" text-anchor="middle" font-weight="normal" font-style="normal" fill="#1e1e1e" stroke="#1e1e1e" stroke-width="0.1" textLength="43.8" lengthAdjust="spacingAndGlyphs" >Apoptosis</text>
<ellipse cx="158.45" cy="212.5" rx="1.2" ry="1.1" fill="#1a1a1a"/>
<ellipse cx="162.0" cy="212.5" rx="1.2" ry="1.1" fill="#1a1a1a"/>
<ellipse cx="165.55" cy="212.5" rx="1.2" ry="1.1" fill="#1a1a1a"/>
<ellipse cx="204.54999999999998" cy="212.6" rx="1.2" ry="1.1" fill="#1a1a1a"/>
<ellipse cx="208.1" cy="212.6" rx="1.2" ry="1.1" fill="#1a1a1a"/>
<ellipse cx="211.65" cy="212.6" rx="1.2" ry="1.1" fill="#1a1a1a"/>
<text x="98.6" y="261" font-family="Liberation Sans, sans-serif" font-size="10" text-anchor="middle" fill="#1e1e1e" stroke="#1e1e1e" stroke-width="0.06" textLength="59.5" lengthAdjust="spacingAndGlyphs" transform="rotate(-90 98.6 261)">Gene expression</text>
<line x1="140.6" y1="213.5" x2="140.6" y2="300.4" stroke="#33628f" stroke-width="0.8" />
<line x1="140.6" y1="270" x2="140.6" y2="281" stroke="#33628f" stroke-width="1.4" />
<line x1="140.6" y1="281" x2="140.6" y2="287.5" stroke="#33628f" stroke-width="2.0" />
<path d="M140.90,223.00 L140.98,223.55 L141.08,224.30 L141.20,225.20 L141.34,226.19 L141.48,227.21 L141.63,228.23 L141.77,229.17 L141.90,230.00 L142.03,230.72 L142.15,231.39 L142.28,232.02 L142.40,232.62 L142.53,233.21 L142.65,233.80 L142.78,234.39 L142.90,235.00 L143.03,235.63 L143.15,236.27 L143.28,236.92 L143.40,237.56 L143.53,238.20 L143.65,238.82 L143.78,239.42 L143.90,240.00 L144.02,240.54 L144.15,241.05 L144.27,241.53 L144.40,242.00 L144.52,242.47 L144.65,242.95 L144.77,243.46 L144.90,244.00 L145.03,244.57 L145.17,245.16 L145.30,245.76 L145.44,246.38 L145.58,247.01 L145.71,247.66 L145.83,248.32 L145.95,249.00 L146.07,249.71 L146.21,250.44 L146.35,251.20 L146.48,251.97 L146.59,252.74 L146.67,253.51 L146.71,254.27 L146.70,255.00 L146.63,255.71 L146.51,256.41 L146.35,257.10 L146.16,257.78 L145.94,258.46 L145.71,259.14 L145.48,259.82 L145.25,260.50 L145.02,261.19 L144.76,261.87 L144.50,262.55 L144.22,263.24 L143.94,263.92 L143.66,264.61 L143.38,265.30 L143.10,266.00 L142.81,266.74 L142.50,267.54 L142.18,268.37 L141.87,269.19 L141.57,269.97 L141.30,270.67 L141.07,271.26 L140.90,271.70 L140.30,271.70 L140.13,271.26 L139.90,270.67 L139.63,269.97 L139.33,269.19 L139.02,268.37 L138.70,267.54 L138.39,266.74 L138.10,266.00 L137.82,265.30 L137.54,264.61 L137.26,263.92 L136.98,263.24 L136.70,262.55 L136.44,261.87 L136.18,261.19 L135.95,260.50 L135.72,259.82 L135.49,259.14 L135.26,258.46 L135.04,257.78 L134.85,257.10 L134.69,256.41 L134.57,255.71 L134.50,255.00 L134.49,254.27 L134.53,253.51 L134.61,252.74 L134.72,251.97 L134.85,251.20 L134.99,250.44 L135.13,249.71 L135.25,249.00 L135.37,248.32 L135.49,247.66 L135.62,247.01 L135.76,246.38 L135.90,245.76 L136.03,245.16 L136.17,244.57 L136.30,244.00 L136.43,243.46 L136.55,242.95 L136.68,242.47 L136.80,242.00 L136.93,241.53 L137.05,241.05 L137.18,240.54 L137.30,240.00 L137.42,239.42 L137.55,238.82 L137.67,238.20 L137.80,237.56 L137.92,236.92 L138.05,236.27 L138.17,235.63 L138.30,235.00 L138.42,234.39 L138.55,233.80 L138.67,233.21 L138.80,232.62 L138.92,232.02 L139.05,231.39 L139.17,230.72 L139.30,230.00 L139.43,229.17 L139.57,228.23 L139.72,227.21 L139.86,226.19 L140.00,225.20 L140.12,224.30 L140.22,223.55 L140.30,223.00 Z" fill="#33628f" fill-opacity="0.0" stroke="#33628f" stroke-width="0.7" stroke-linejoin="round"/>
<polyline points="138.4,247.6 140.6,223 142.6,247.6" fill="none" stroke="#33628f" stroke-width="0.4" stroke-opacity="0.6"/>
<polyline points="138.4,261 140.6,271.7 142.6,261" fill="none" stroke="#33628f" stroke-width="0.4" stroke-opacity="0.6"/>
<rect x="138.4" y="247.6" width="4.199999999999989" height="13.400000000000006" fill="white" stroke="#33628f" stroke-width="0.8"/>
<line x1="138.4" y1="254.9" x2="142.6" y2="254.9" stroke="#33628f" stroke-width="0.8" />
<circle cx="140.6" cy="213.5" r="1.1" fill="#33628f"/>
<circle cx="140.6" cy="223" r="1.1" fill="#33628f"/>
<circle cx="140.6" cy="225" r="1.1" fill="#33628f"/>
<circle cx="140.6" cy="293" r="1.1" fill="#33628f"/>
<circle cx="140.6" cy="300.4" r="1.1" fill="#33628f"/>
<line x1="161.6" y1="220.8" x2="161.6" y2="289" stroke="#c8354f" stroke-width="0.8" />
<line x1="161.6" y1="254" x2="161.6" y2="289" stroke="#c8354f" stroke-width="1.8" />
<path d="M163.00,220.80 L163.13,221.28 L163.31,221.93 L163.51,222.70 L163.74,223.55 L163.99,224.45 L164.24,225.35 L164.48,226.21 L164.70,227.00 L164.91,227.73 L165.13,228.45 L165.35,229.17 L165.57,229.87 L165.78,230.56 L166.00,231.25 L166.20,231.93 L166.40,232.60 L166.61,233.25 L166.84,233.89 L167.08,234.51 L167.31,235.12 L167.52,235.74 L167.67,236.37 L167.78,237.02 L167.80,237.70 L167.74,238.42 L167.61,239.16 L167.41,239.93 L167.18,240.71 L166.91,241.50 L166.64,242.28 L166.36,243.05 L166.10,243.80 L165.84,244.53 L165.57,245.26 L165.28,245.98 L164.99,246.69 L164.70,247.39 L164.40,248.10 L164.12,248.80 L163.85,249.50 L163.58,250.23 L163.30,251.02 L163.01,251.82 L162.73,252.61 L162.48,253.35 L162.24,254.02 L162.05,254.58 L161.90,255.00 L161.30,255.00 L161.15,254.58 L160.96,254.02 L160.72,253.35 L160.47,252.61 L160.19,251.82 L159.90,251.02 L159.62,250.23 L159.35,249.50 L159.08,248.80 L158.80,248.10 L158.50,247.39 L158.21,246.69 L157.92,245.98 L157.63,245.26 L157.36,244.53 L157.10,243.80 L156.84,243.05 L156.56,242.28 L156.29,241.50 L156.02,240.71 L155.79,239.93 L155.59,239.16 L155.46,238.42 L155.40,237.70 L155.42,237.02 L155.53,236.37 L155.68,235.74 L155.89,235.12 L156.12,234.51 L156.36,233.89 L156.59,233.25 L156.80,232.60 L157.00,231.93 L157.20,231.25 L157.42,230.56 L157.63,229.87 L157.85,229.17 L158.07,228.45 L158.29,227.73 L158.50,227.00 L158.72,226.21 L158.96,225.35 L159.21,224.45 L159.46,223.55 L159.69,222.70 L159.89,221.93 L160.07,221.28 L160.20,220.80 Z" fill="#c8354f" fill-opacity="0.0" stroke="#c8354f" stroke-width="0.7" stroke-linejoin="round"/>
<polyline points="160,233.7 161.6,220.8 163.1,233.7" fill="none" stroke="#c8354f" stroke-width="0.4" stroke-opacity="0.6"/>
<polyline points="160,245 161.6,255 163.1,245" fill="none" stroke="#c8354f" stroke-width="0.4" stroke-opacity="0.6"/>
<rect x="160" y="233.7" width="3.0999999999999943" height="11.300000000000011" fill="white" stroke="#c8354f" stroke-width="0.8"/>
<line x1="160" y1="238.2" x2="163.1" y2="238.2" stroke="#c8354f" stroke-width="0.8" />
<circle cx="161.6" cy="267" r="1.1" fill="#c8354f"/>
<circle cx="161.6" cy="274.7" r="1.1" fill="#c8354f"/>
<circle cx="161.6" cy="281.3" r="1.1" fill="#c8354f"/>
<circle cx="161.6" cy="289" r="1.1" fill="#c8354f"/>
<line x1="187.3" y1="225.8" x2="187.3" y2="308.9" stroke="#33628f" stroke-width="0.8" />
<line x1="187.3" y1="270" x2="187.3" y2="288" stroke="#33628f" stroke-width="1.3" />
<path d="M187.60,226.00 L187.63,226.31 L187.68,226.71 L187.72,227.19 L187.78,227.73 L187.85,228.30 L187.92,228.89 L188.01,229.46 L188.10,230.00 L188.20,230.52 L188.31,231.05 L188.42,231.58 L188.55,232.11 L188.69,232.65 L188.84,233.20 L189.01,233.75 L189.20,234.30 L189.42,234.86 L189.67,235.43 L189.95,236.00 L190.23,236.58 L190.52,237.16 L190.80,237.74 L191.06,238.32 L191.30,238.90 L191.52,239.47 L191.75,240.03 L191.98,240.59 L192.19,241.14 L192.38,241.71 L192.53,242.29 L192.64,242.88 L192.70,243.50 L192.69,244.14 L192.63,244.78 L192.52,245.44 L192.38,246.11 L192.21,246.80 L192.05,247.51 L191.89,248.24 L191.75,249.00 L191.63,249.78 L191.52,250.59 L191.40,251.42 L191.29,252.26 L191.17,253.13 L191.04,254.01 L190.90,254.90 L190.75,255.80 L190.58,256.72 L190.40,257.66 L190.21,258.62 L190.01,259.59 L189.81,260.57 L189.60,261.55 L189.40,262.53 L189.20,263.50 L188.99,264.52 L188.77,265.61 L188.53,266.73 L188.30,267.83 L188.09,268.88 L187.89,269.82 L187.72,270.61 L187.60,271.20 L187.00,271.20 L186.88,270.61 L186.71,269.82 L186.51,268.88 L186.30,267.83 L186.07,266.73 L185.83,265.61 L185.61,264.52 L185.40,263.50 L185.20,262.53 L185.00,261.55 L184.79,260.57 L184.59,259.59 L184.39,258.62 L184.20,257.66 L184.02,256.72 L183.85,255.80 L183.70,254.90 L183.56,254.01 L183.43,253.13 L183.31,252.26 L183.20,251.42 L183.08,250.59 L182.97,249.78 L182.85,249.00 L182.71,248.24 L182.55,247.51 L182.39,246.80 L182.23,246.11 L182.08,245.44 L181.97,244.78 L181.91,244.14 L181.90,243.50 L181.96,242.88 L182.07,242.29 L182.22,241.71 L182.41,241.14 L182.62,240.59 L182.85,240.03 L183.08,239.47 L183.30,238.90 L183.54,238.32 L183.80,237.74 L184.08,237.16 L184.37,236.58 L184.65,236.00 L184.93,235.43 L185.18,234.86 L185.40,234.30 L185.59,233.75 L185.76,233.20 L185.91,232.65 L186.05,232.11 L186.18,231.58 L186.29,231.05 L186.40,230.52 L186.50,230.00 L186.59,229.46 L186.68,228.89 L186.75,228.30 L186.82,227.73 L186.88,227.19 L186.92,226.71 L186.97,226.31 L187.00,226.00 Z" fill="#33628f" fill-opacity="0.0" stroke="#33628f" stroke-width="0.7" stroke-linejoin="round"/>
<polyline points="185,243.5 187.3,226 189.8,243.5" fill="none" stroke="#33628f" stroke-width="0.4" stroke-opacity="0.6"/>
<polyline points="185,255.5 187.3,271.2 189.8,255.5" fill="none" stroke="#33628f" stroke-width="0.4" stroke-opacity="0.6"/>
<rect x="185" y="243.5" width="4.800000000000011" height="12.0" fill="white" stroke="#33628f" stroke-width="0.8"/>
<line x1="185" y1="248.5" x2="189.8" y2="248.5" stroke="#33628f" stroke-width="0.8" />
<circle cx="187.3" cy="276.2" r="1.1" fill="#33628f"/>
<circle cx="187.3" cy="281.6" r="1.1" fill="#33628f"/>
<circle cx="187.3" cy="283.7" r="1.1" fill="#33628f"/>
<circle cx="187.3" cy="287.1" r="1.1" fill="#33628f"/>
<circle cx="187.3" cy="297.3" r="1.1" fill="#33628f"/>
<circle cx="187.3" cy="308.9" r="1.1" fill="#33628f"/>
<line x1="208.2" y1="228" x2="208.2" y2="277.8" stroke="#c8354f" stroke-width="0.8" />
<path d="M211.70,228.00 L211.82,228.12 L211.99,228.27 L212.18,228.45 L212.40,228.66 L212.62,228.87 L212.84,229.09 L213.04,229.30 L213.20,229.50 L213.34,229.68 L213.46,229.86 L213.56,230.04 L213.66,230.21 L213.75,230.39 L213.84,230.58 L213.92,230.78 L214.00,231.00 L214.09,231.22 L214.18,231.44 L214.28,231.66 L214.36,231.89 L214.44,232.15 L214.49,232.43 L214.51,232.74 L214.50,233.10 L214.45,233.51 L214.38,233.97 L214.28,234.46 L214.16,234.98 L214.01,235.52 L213.86,236.06 L213.68,236.59 L213.50,237.10 L213.30,237.61 L213.06,238.12 L212.81,238.64 L212.54,239.16 L212.26,239.67 L212.00,240.17 L211.74,240.65 L211.50,241.10 L211.27,241.52 L211.05,241.92 L210.83,242.29 L210.62,242.66 L210.42,243.01 L210.23,243.37 L210.05,243.73 L209.90,244.10 L209.77,244.45 L209.65,244.76 L209.55,245.05 L209.46,245.35 L209.38,245.69 L209.31,246.09 L209.25,246.59 L209.20,247.20 L209.16,247.94 L209.13,248.77 L209.11,249.68 L209.11,250.67 L209.10,251.71 L209.10,252.79 L209.10,253.89 L209.10,255.00 L209.10,256.17 L209.09,257.42 L209.09,258.72 L209.09,260.05 L209.10,261.37 L209.10,262.66 L209.10,263.88 L209.10,265.00 L209.10,266.03 L209.11,266.99 L209.12,267.90 L209.13,268.76 L209.14,269.59 L209.14,270.40 L209.12,271.20 L209.10,272.00 L209.06,272.82 L209.00,273.67 L208.93,274.52 L208.85,275.34 L208.77,276.10 L208.70,276.79 L208.64,277.36 L208.60,277.80 L207.80,277.80 L207.76,277.36 L207.70,276.79 L207.63,276.10 L207.55,275.34 L207.47,274.52 L207.40,273.67 L207.34,272.82 L207.30,272.00 L207.28,271.20 L207.26,270.40 L207.26,269.59 L207.27,268.76 L207.28,267.90 L207.29,266.99 L207.30,266.03 L207.30,265.00 L207.30,263.88 L207.30,262.66 L207.30,261.37 L207.31,260.05 L207.31,258.72 L207.31,257.42 L207.30,256.17 L207.30,255.00 L207.30,253.89 L207.30,252.79 L207.30,251.71 L207.29,250.67 L207.29,249.68 L207.27,248.77 L207.24,247.94 L207.20,247.20 L207.15,246.59 L207.09,246.09 L207.02,245.69 L206.94,245.35 L206.85,245.05 L206.75,244.76 L206.63,244.45 L206.50,244.10 L206.35,243.73 L206.17,243.37 L205.98,243.01 L205.78,242.66 L205.57,242.29 L205.35,241.92 L205.13,241.52 L204.90,241.10 L204.66,240.65 L204.40,240.17 L204.14,239.67 L203.86,239.16 L203.59,238.64 L203.34,238.12 L203.10,237.61 L202.90,237.10 L202.72,236.59 L202.54,236.06 L202.39,235.52 L202.24,234.98 L202.12,234.46 L202.02,233.97 L201.95,233.51 L201.90,233.10 L201.89,232.74 L201.91,232.43 L201.96,232.15 L202.04,231.89 L202.12,231.66 L202.22,231.44 L202.31,231.22 L202.40,231.00 L202.48,230.78 L202.56,230.58 L202.65,230.39 L202.74,230.21 L202.84,230.04 L202.94,229.86 L203.06,229.68 L203.20,229.50 L203.36,229.30 L203.56,229.09 L203.78,228.87 L204.00,228.66 L204.22,228.45 L204.41,228.27 L204.58,228.12 L204.70,228.00 Z" fill="#c8354f" fill-opacity="0.0" stroke="#c8354f" stroke-width="0.7" stroke-linejoin="round"/>
<polyline points="206,231.6 208.2,228 210.1,231.6" fill="none" stroke="#c8354f" stroke-width="0.4" stroke-opacity="0.6"/>
<polyline points="206,238 208.2,247.5 210.1,238" fill="none" stroke="#c8354f" stroke-width="0.4" stroke-opacity="0.6"/>
<rect x="206" y="231.6" width="4.099999999999994" height="6.400000000000006" fill="white" stroke="#c8354f" stroke-width="0.8"/>
<line x1="206" y1="234" x2="210.1" y2="234" stroke="#c8354f" stroke-width="0.8" />
<circle cx="208.2" cy="258.6" r="1.1" fill="#c8354f"/>
<circle cx="208.2" cy="264.3" r="1.1" fill="#c8354f"/>
<circle cx="208.2" cy="277.8" r="1.1" fill="#c8354f"/>
<rect x="218.6" y="292.70000000000005" width="3.4" height="3.4" fill="white" stroke="#33628f" stroke-width="1.2"/>
<rect x="218.6" y="302.40000000000003" width="3.4" height="3.4" fill="white" stroke="#c8354f" stroke-width="1.2"/>
<text x="226.4" y="296.70000000000005" font-family="Liberation Sans, sans-serif" font-size="8.5" text-anchor="start" font-weight="normal" font-style="normal" fill="#1e1e1e" stroke="#1e1e1e" stroke-width="0.03" textLength="10.7" lengthAdjust="spacingAndGlyphs" >ﬂ/ﬂ</text>
<text x="226.4" y="306.6" font-family="Liberation Serif, serif" font-size="7.3" text-anchor="start" font-weight="normal" font-style="normal" fill="#1e1e1e" stroke="#1e1e1e" stroke-width="0.05" textLength="12.2" lengthAdjust="spacingAndGlyphs" >Δ/Δ</text>
<text x="8.4" y="19.8" font-family="Liberation Sans, sans-serif" font-size="13.6" text-anchor="start" font-weight="bold" font-style="normal" fill="#111" stroke="#111" stroke-width="0.1" >P</text>
<text x="367.4" y="19.9" font-family="Liberation Sans, sans-serif" font-size="13.6" text-anchor="start" font-weight="bold" font-style="normal" fill="#111" stroke="#111" stroke-width="0.1" >R</text>
<text x="89.6" y="187.4" font-family="Liberation Sans, sans-serif" font-size="13.6" text-anchor="start" font-weight="bold" font-style="normal" fill="#111" stroke="#111" stroke-width="0.1" >S</text>
<text x="249.6" y="187.3" font-family="Liberation Sans, sans-serif" font-size="13.6" text-anchor="start" font-weight="bold" font-style="normal" fill="#111" stroke="#111" stroke-width="0.1" >T</text>
<circle cx="191.45" cy="14.95" r="3.85" fill="none" stroke="#111" stroke-width="2.0"/>
<line x1="191.3" y1="19.0" x2="197.7" y2="19.0" stroke="#111" stroke-width="1.7"/>
</g>
<rect x="0.5" y="0.5" width="519" height="337" fill="none" stroke="#333" stroke-width="1"/>
</svg>
</body></html>
